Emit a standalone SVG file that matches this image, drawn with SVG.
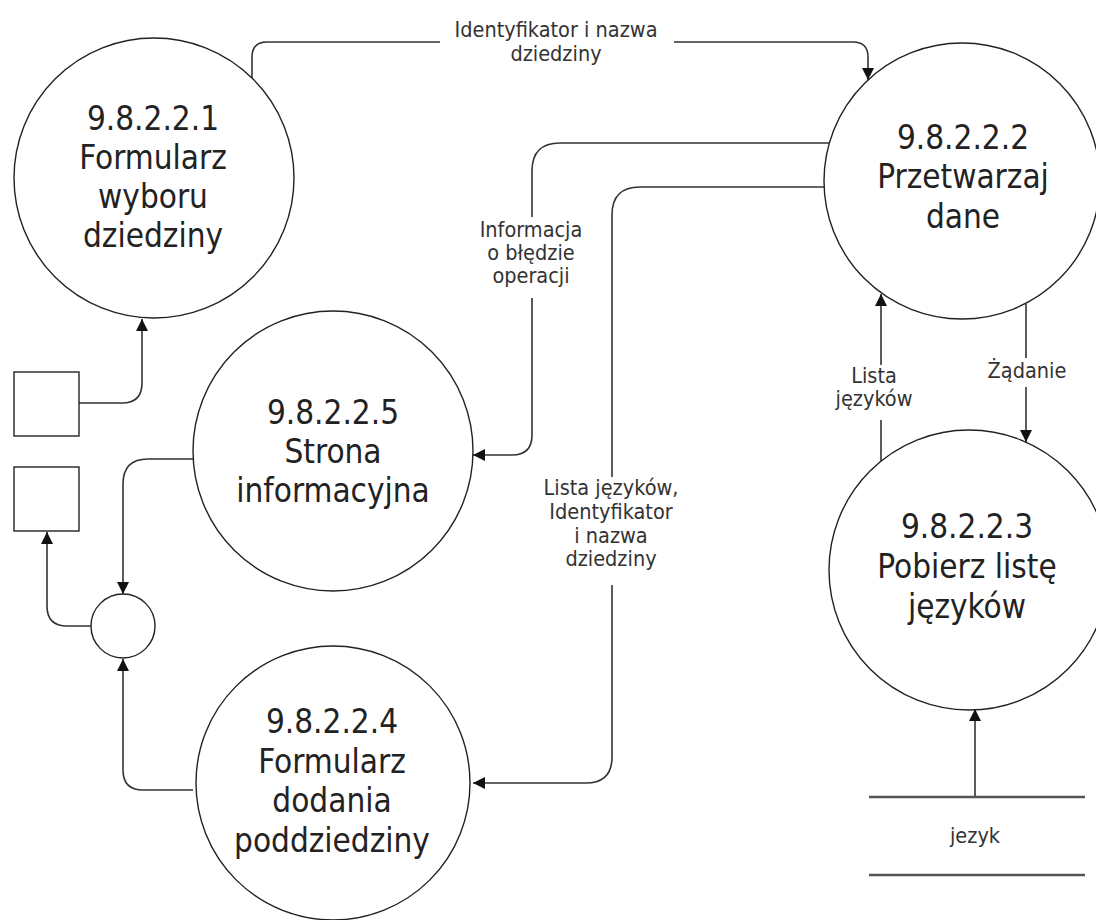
<svg xmlns="http://www.w3.org/2000/svg" width="1096" height="920" viewBox="0 0 1096 920">
<defs>
<marker id="arr" markerUnits="userSpaceOnUse" markerWidth="14" markerHeight="12" refX="12" refY="6" orient="auto">
<path d="M0,0 L12,6 L0,12 Z" fill="#111"/>
</marker>
<style>
.node{fill:#fff;stroke:#222;stroke-width:1.4}
.nt{font-family:"DejaVu Sans Condensed","DejaVu Sans",Tahoma,sans-serif;font-stretch:condensed;font-size:33px;fill:#222;text-anchor:middle}
.lt{font-family:"DejaVu Sans Condensed","DejaVu Sans",Tahoma,sans-serif;font-stretch:condensed;font-size:21.5px;fill:#333;text-anchor:middle}
.c{fill:none;stroke:#333;stroke-width:1.6}
.ca{fill:none;stroke:#333;stroke-width:1.6;marker-end:url(#arr)}
.bg{fill:#fff}
.st{stroke:#555;stroke-width:2.5}
</style>
</defs>
<g id="connectors">
<path class="ca" d="M252,78 V57 Q252,42 267,42 H853 Q868,42 868,57 V80"/>
<path class="ca" d="M829,143 H560 Q532,143 532,171 V435 Q532,455 512,455 H473"/>
<path class="ca" d="M826,187 H640 Q612,187 612,215 V757 Q612,783 586,783 H473"/>
<path class="ca" d="M881,461 V294"/>
<path class="ca" d="M1026,304 V442"/>
<path class="ca" d="M975,797 V709"/>
<path class="ca" d="M79,403 H122 Q142,403 142,383 V319"/>
<path class="ca" d="M194,459 H148 Q123,459 123,484 V594"/>
<path class="ca" d="M91,626 H67 Q47,626 47,606 V532"/>
<path class="ca" d="M193,790 H143 Q123,790 123,770 V659"/>
<rect class="bg" x="440" y="16" width="234" height="50"/>
<text class="lt" x="556" y="37">Identyfikator i nazwa</text>
<text class="lt" x="556" y="61">dziedziny</text>
<rect class="bg" x="472" y="217" width="120" height="81"/>
<text class="lt" x="531" y="237">Informacja</text>
<text class="lt" x="531" y="260">o błędzie</text>
<text class="lt" x="531" y="283">operacji</text>
<rect class="bg" x="536" y="477" width="150" height="108"/>
<text class="lt" x="611" y="495">Lista języków,</text>
<text class="lt" x="611" y="519">Identyfikator</text>
<text class="lt" x="611" y="543">i nazwa</text>
<text class="lt" x="611" y="566">dziedziny</text>
<rect class="bg" x="830" y="365" width="88" height="55"/>
<text class="lt" x="874" y="383">Lista</text>
<text class="lt" x="874" y="406">języków</text>
<rect class="bg" x="984" y="358" width="86" height="29"/>
<text class="lt" x="1027" y="378">Żądanie</text>
</g>
<g id="n1">
<circle class="node" cx="154" cy="178" r="140"/>
<text class="nt" x="153" y="130">9.8.2.2.1</text>
<text class="nt" x="153" y="169">Formularz</text>
<text class="nt" x="153" y="208">wyboru</text>
<text class="nt" x="153" y="247">dziedziny</text>
</g>
<g id="n2">
<circle class="node" cx="962" cy="181" r="138"/>
<text class="nt" x="963" y="149">9.8.2.2.2</text>
<text class="nt" x="963" y="188">Przetwarzaj</text>
<text class="nt" x="963" y="228">dane</text>
</g>
<g id="n3">
<circle class="node" cx="969" cy="570" r="140"/>
<text class="nt" x="967" y="538">9.8.2.2.3</text>
<text class="nt" x="967" y="578">Pobierz listę</text>
<text class="nt" x="967" y="618">języków</text>
</g>
<g id="n5">
<circle class="node" cx="333" cy="451" r="140"/>
<text class="nt" x="333" y="424">9.8.2.2.5</text>
<text class="nt" x="333" y="463">Strona</text>
<text class="nt" x="333" y="502">informacyjna</text>
</g>
<g id="n4">
<circle class="node" cx="333" cy="783" r="137"/>
<text class="nt" x="332" y="733">9.8.2.2.4</text>
<text class="nt" x="332" y="773">Formularz</text>
<text class="nt" x="332" y="812">dodania</text>
<text class="nt" x="332" y="852">poddziedziny</text>
</g>
<g id="junction">
<circle class="node" cx="123" cy="626" r="32"/>
</g>
<g id="ext1">
<rect class="node" x="14" y="372" width="65" height="64" stroke="#555" stroke-width="2"/>
</g>
<g id="ext2">
<rect class="node" x="14" y="467" width="65" height="64" stroke="#555" stroke-width="2"/>
</g>
<g id="store-jezyk">
<line class="st" x1="869" y1="797" x2="1085" y2="797"/>
<line class="st" x1="869" y1="875" x2="1085" y2="875"/>
<text class="lt" x="975" y="843">jezyk</text>
</g>
</svg>
